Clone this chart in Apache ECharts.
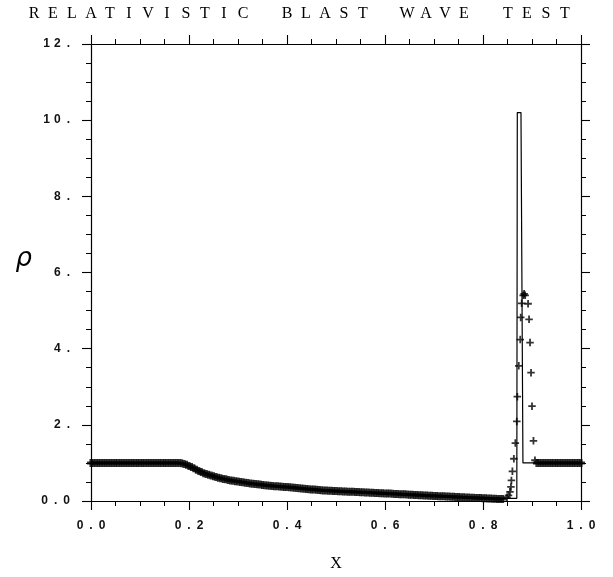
<!DOCTYPE html>
<html>
<head>
<meta charset="utf-8">
<script src="https://cdn.jsdelivr.net/npm/echarts@6/dist/echarts.min.js"></script>
<style>
  html, body { margin: 0; background: #fff; }
  #chart { width: 613px; height: 577px; }
</style>
</head>
<body>
<div id="chart"></div>
<script>
  // numerical solution, uniform grid from x = 0 (one row = 0.05 in x)
  var BAND_STEP = 0.005
  var bandRho = [
    1, 1, 1, 1, 1, 1, 1, 1, 1, 1,
    1, 1, 1, 1, 1, 1, 1, 1, 1, 1,
    1, 1, 1, 1, 1, 1, 1, 1, 1, 1,
    1, 1, 1, 1, 1, 1, 1, 0.99, 0.97, 0.95,
    0.92, 0.89, 0.86, 0.82, 0.79, 0.76, 0.73, 0.71, 0.69, 0.67,
    0.65, 0.63, 0.61, 0.60, 0.58, 0.57, 0.55, 0.54, 0.53, 0.52,
    0.51, 0.50, 0.49, 0.48, 0.47, 0.46, 0.45, 0.445, 0.44, 0.43,
    0.42, 0.415, 0.41, 0.40, 0.395, 0.39, 0.385, 0.38, 0.375, 0.37,
    0.365, 0.359, 0.353, 0.347, 0.341, 0.335, 0.329, 0.323, 0.317, 0.311,
    0.305, 0.299, 0.293, 0.287, 0.281, 0.277, 0.274, 0.271, 0.268, 0.265,
    0.262, 0.258, 0.255, 0.252, 0.249, 0.246, 0.243, 0.240, 0.237, 0.234,
    0.231, 0.228, 0.225, 0.222, 0.218, 0.215, 0.212, 0.209, 0.206, 0.203,
    0.200, 0.197, 0.194, 0.190, 0.187, 0.184, 0.180, 0.177, 0.174, 0.170,
    0.167, 0.164, 0.160, 0.157, 0.154, 0.150, 0.147, 0.144, 0.140, 0.137,
    0.134, 0.131, 0.128, 0.125, 0.122, 0.119, 0.116, 0.113, 0.110, 0.107,
    0.104, 0.100, 0.097, 0.094, 0.091, 0.088, 0.085, 0.082, 0.079, 0.076,
    0.073, 0.070, 0.067, 0.064, 0.061, 0.058, 0.055, 0.053, 0.055
  ]
  // points through the shell
  var shockX = [0.849, 0.852, 0.855, 0.857, 0.858, 0.860, 0.863, 0.866, 0.869, 0.870, 0.873, 0.876,
    0.877, 0.879, 0.882, 0.884, 0.886, 0.892, 0.894, 0.896, 0.898, 0.900, 0.903, 0.906]
  var shockRho = [0.10, 0.15, 0.24, 0.37, 0.54, 0.78, 1.11, 1.52, 2.09, 2.74, 3.55, 4.24,
    4.82, 5.19, 5.40, 5.44, 5.40, 5.18, 4.77, 4.16, 3.37, 2.49, 1.58, 1.07]
  // undisturbed state ahead of the shock
  var TAIL_START = 0.91
  var tailRho = [1, 1, 1, 1, 1, 1, 1, 1, 1, 1, 1, 1, 1, 1, 1, 1, 1, 1, 1]

  // exact solution (solid line)
  var exactX = [0, 0.18, 0.2, 0.25, 0.3, 0.4, 0.5, 0.6, 0.7, 0.8, 0.84, 0.869, 0.870, 0.8775, 0.8815, 1.0]
  var exactRho = [1, 1, 0.92, 0.65, 0.51, 0.365, 0.262, 0.20, 0.134, 0.073, 0.068, 0.07, 10.2, 10.2, 1.0, 1.0]

  // tick labels, letter-spaced with en spaces
  var xTickLabels = ['0\u2002.\u20020', '0\u2002.\u20022', '0\u2002.\u20024', '0\u2002.\u20026', '0\u2002.\u20028', '1\u2002.\u20020']
  var yTickLabels = ['0\u2002.\u20020', '2\u2002.', '4\u2002.', '6\u2002.', '8\u2002.', '1\u20040\u2002.', '1\u20042\u2002.']
  var title = 'RELATIVISTIC BLAST WAVE TEST'

  var band = []
  bandRho.forEach(function (v, i) { band.push([+(i * BAND_STEP).toFixed(4), v]) })
  tailRho.forEach(function (v, i) { band.push([+(TAIL_START + i * BAND_STEP).toFixed(4), v]) })
  var shock = shockX.map(function (x, i) { return [x, shockRho[i]] })
  var exact = exactX.map(function (x, i) { return [x, exactRho[i]] })

  var labelFont = {
    fontFamily: 'Liberation Sans',
    fontSize: 12,
    fontWeight: 'bold',
    color: '#111'
  }
  var axisLine = { show: true, onZero: false, lineStyle: { color: '#000', width: 1.2 } }
  var tick = { show: true, length: 9, lineStyle: { color: '#000', width: 1.1 } }
  var minorTick = { show: true, splitNumber: 4, length: 5, lineStyle: { color: '#000', width: 1 } }

  // spaced title letters
  var letters = []
  var cx = 34
  for (var i = 0; i < title.length; i++) {
    var ch = title[i]
    if (ch === ' ') { cx += 44 - 19; continue }
    letters.push({
      type: 'text', x: cx, y: 14,
      style: { text: ch, font: '16px "Liberation Serif"', fill: '#000', align: 'center', verticalAlign: 'middle' }
    })
    cx += 19
  }

  var plus = 'path://M38,0H62V38H100V62H62V100H38V62H0V38H38Z'
  var plusHeavy = 'path://M31,0H69V31H100V69H69V100H31V69H0V31H31Z'

  var myChart = echarts.init(document.getElementById('chart'))
  var option = {
    backgroundColor: '#fff',
    animation: false,
    graphic: letters,
    grid: { left: 91, right: 32, top: 44, bottom: 67 },
    xAxis: [{
      type: 'value', min: 0, max: 1, interval: 0.2,
      name: 'X', nameLocation: 'middle', nameGap: 55,
      nameTextStyle: { fontFamily: 'Liberation Serif', fontSize: 16, color: '#000' },
      axisLine: axisLine, axisTick: tick, minorTick: minorTick,
      splitLine: { show: false },
      axisLabel: Object.assign({
        margin: 19,
        formatter: function (v) { return xTickLabels[Math.round(v / 0.2)] }
      }, labelFont)
    }, {
      type: 'value', min: 0, max: 1, interval: 0.2, position: 'top',
      axisLine: axisLine, axisTick: tick, minorTick: minorTick,
      splitLine: { show: false }, axisLabel: { show: false }
    }],
    yAxis: [{
      type: 'value', min: 0, max: 12, interval: 2,
      name: 'ρ', nameLocation: 'middle', nameGap: 59, nameRotate: 0,
      nameTextStyle: { fontFamily: 'DejaVu Sans', fontStyle: 'italic', fontSize: 26, color: '#000', verticalAlign: 'bottom' },
      axisLine: axisLine, axisTick: tick, minorTick: minorTick,
      splitLine: { show: false },
      axisLabel: Object.assign({
        margin: 21,
        formatter: function (v) { return yTickLabels[Math.round(v / 2)] }
      }, labelFont)
    }, {
      type: 'value', min: 0, max: 12, interval: 2, position: 'right',
      axisLine: axisLine, axisTick: tick, minorTick: minorTick,
      splitLine: { show: false }, axisLabel: { show: false }
    }],
    series: [{
      name: 'exact',
      type: 'line',
      data: exact,
      symbol: 'none',
      lineStyle: { color: '#000', width: 1.2 },
      z: 2
    }, {
      name: 'numerical',
      type: 'scatter',
      data: band,
      symbol: plusHeavy,
      symbolSize: 8,
      itemStyle: { color: '#000' },
      z: 3
    }, {
      name: 'numerical shell',
      type: 'scatter',
      data: shock,
      symbol: plus,
      symbolSize: 7.5,
      itemStyle: { color: '#000' },
      z: 3
    }]
  }
  myChart.setOption(option)
</script>
</body>
</html>
